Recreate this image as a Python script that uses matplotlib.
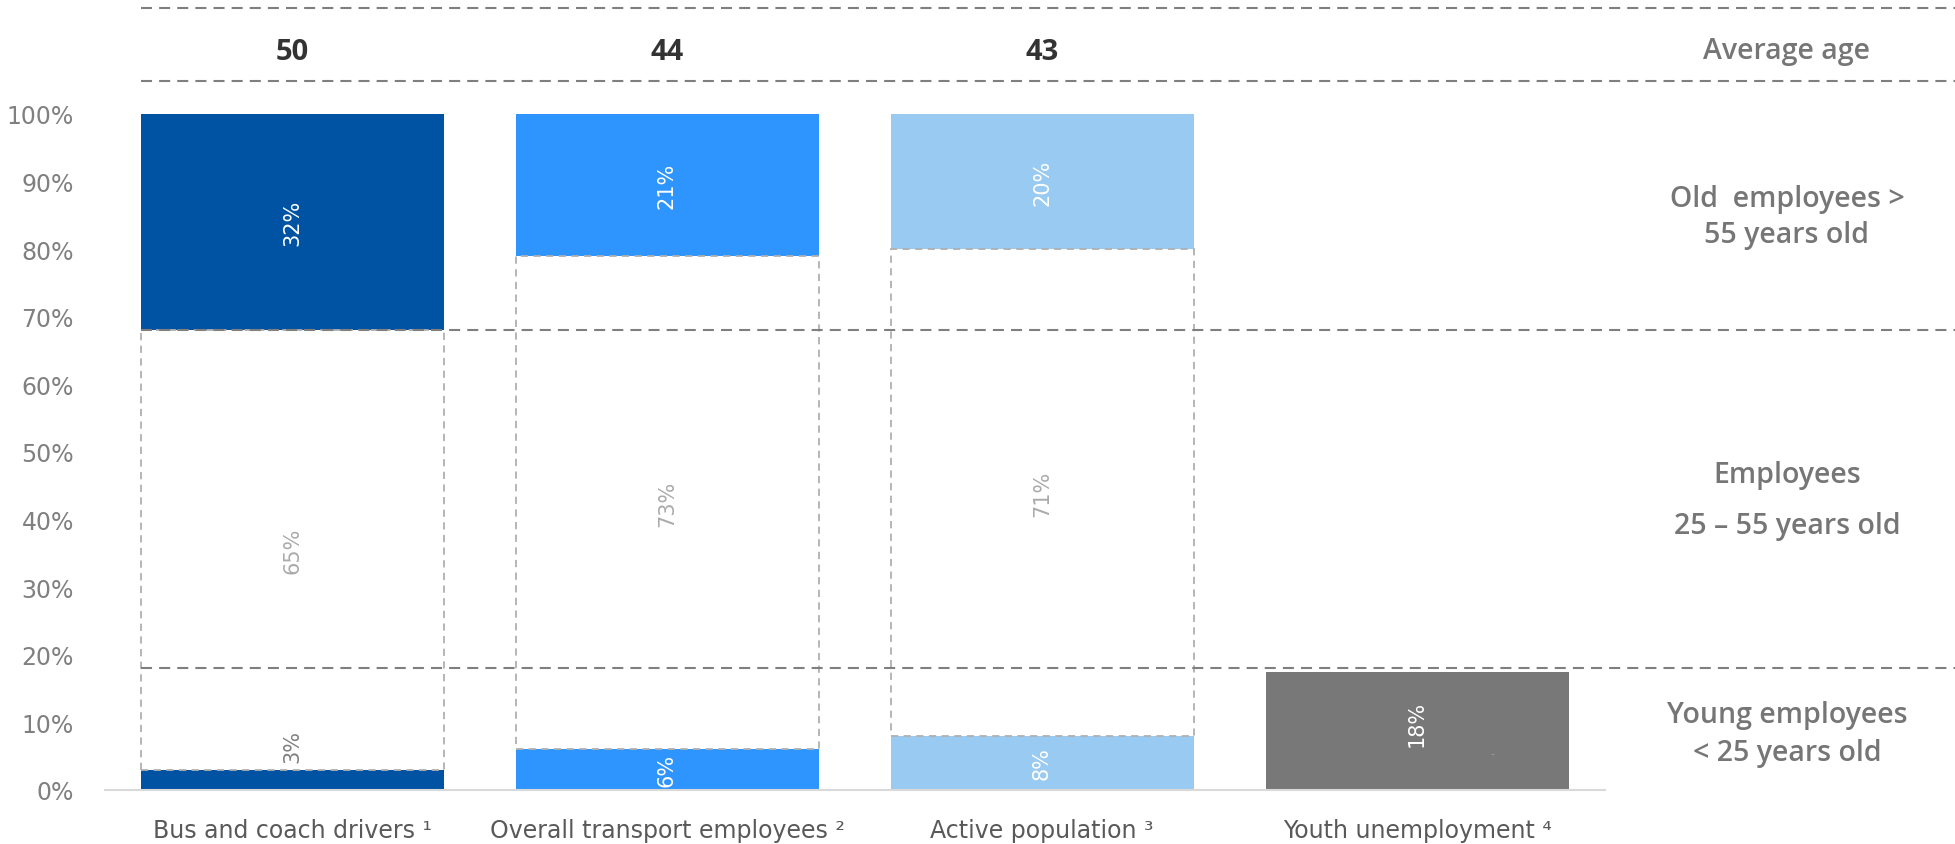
import matplotlib.pyplot as plt
from matplotlib import transforms

# data
categories = ["Bus and coach drivers \u00b9", "Overall transport employees \u00b2",
              "Active population \u00b3", "Youth unemployment \u2074"]
young = [3, 6, 8, 17.4]
old = [32, 21, 20, 0]
young_labels = ["3%", "6%", "8%", "18%"]
middle_labels = ["65%", "73%", "71%", ""]
old_labels = ["32%", "21%", "20%", ""]
avg_age = ["50", "44", "43"]

COLORS = ["#0052A3", "#2E95FF", "#99CAF2", "#787878"]
DASH_DARK = "#7F7F7F"
DASH_LIGHT = "#B0B0B0"
TXT_GRAY = "#767676"

plt.rcParams["font.family"] = ["Liberation Sans Narrow", "DejaVu Sans"]

fig = plt.figure(figsize=(19.56, 8.45), dpi=100)
ax = fig.add_axes([104.5 / 1956, 54 / 845, 1500 / 1956, 676 / 845])

x = list(range(len(categories)))
width = 0.808

ax.set_xlim(-0.5, 3.5)
ax.set_ylim(0, 100)

# bottom (young) segments
ax.bar(x, young, width=width, color=COLORS, zorder=2)

# top (old) segments, drawn down from 100%
for i, v in enumerate(old):
    if v > 0:
        ax.bar(i, v, bottom=100 - v, width=width, color=COLORS[i], zorder=2)
        # dashed empty box for the 25-55 group
        ax.bar(i, 100 - v - young[i], bottom=young[i], width=width,
               fill=False, edgecolor=DASH_LIGHT, linewidth=1.3,
               linestyle=(0, (4, 3)), zorder=3)

# value labels
for i in range(len(categories)):
    if old[i] > 0:
        ax.text(i, 100 - old[i] / 2, old_labels[i], rotation=90, ha="center",
                va="center", color="white", fontsize=15, zorder=5)
        ax.text(i, (young[i] + 100 - old[i]) / 2, middle_labels[i], rotation=90,
                ha="center", va="center", color="#ABABAB", fontsize=15, zorder=5)
    if young[i] < 5:
        ax.text(i, young[i] + 1.2, young_labels[i], rotation=90, ha="center",
                va="bottom", color="#808080", fontsize=15, zorder=5)
    else:
        ax.text(i, young[i] / 2 + (1.2 if i == 3 else 0), young_labels[i],
                rotation=90, ha="center", va="center", color="white",
                fontsize=15, zorder=5)

# small stray mark inside the grey bar
ax.text(3.2, 5.4, "-", ha="center", va="center", color="#A0A0A0", fontsize=8)

# dashed reference lines from first bar to right edge of figure
trans = transforms.blended_transform_factory(fig.transFigure, ax.transData)
x_start = fig.transFigure.inverted().transform(
    ax.transData.transform((-width / 2, 0)))[0]
for yv in [115.7, 104.9, 68, 18]:
    ax.plot([x_start, 1.0], [yv, yv], transform=trans, color=DASH_DARK,
            linewidth=1.5, linestyle=(0, (5.3, 3.4)), clip_on=False, zorder=4)

# average age row
for i, a in enumerate(avg_age):
    ax.text(i, 109.2, a, ha="center", va="center", fontsize=21,
            fontweight="bold", color="#333333", family="Open Sans",
            clip_on=False)

xr = 1787 / 1956
right_kw = dict(transform=trans, ha="center", va="center", fontsize=20.5,
                fontweight="semibold", color=TXT_GRAY, family="Open Sans",
                clip_on=False)
ax.text(xr, 109.4, "Average age", **right_kw)
ax.text(xr, 87.5, "Old  employees >", **right_kw)
ax.text(xr, 82.2, "55 years old", **right_kw)
ax.text(xr, 46.7, "Employees", **right_kw)
ax.text(xr, 39.1, "25 \u2013 55 years old", **right_kw)
ax.text(xr, 11.1, "Young employees", **right_kw)
ax.text(xr, 5.5, "< 25 years old", **right_kw)

# axes styling
ax.set_yticks(range(0, 101, 10))
ax.set_yticklabels([f"{t}%" for t in range(0, 101, 10)])
ax.set_xticks(x)
ax.set_xticklabels(categories)
ax.tick_params(axis="y", length=0, pad=22, labelsize=17, labelcolor="#808080")
ax.tick_params(axis="x", length=0, pad=20, labelsize=17, labelcolor="#595959")

for side in ["top", "right", "left"]:
    ax.spines[side].set_visible(False)
ax.spines["bottom"].set_color("#D9D9D9")
ax.spines["bottom"].set_linewidth(1.5)

fig.savefig("out.png", dpi=100)
plt.close(fig)
